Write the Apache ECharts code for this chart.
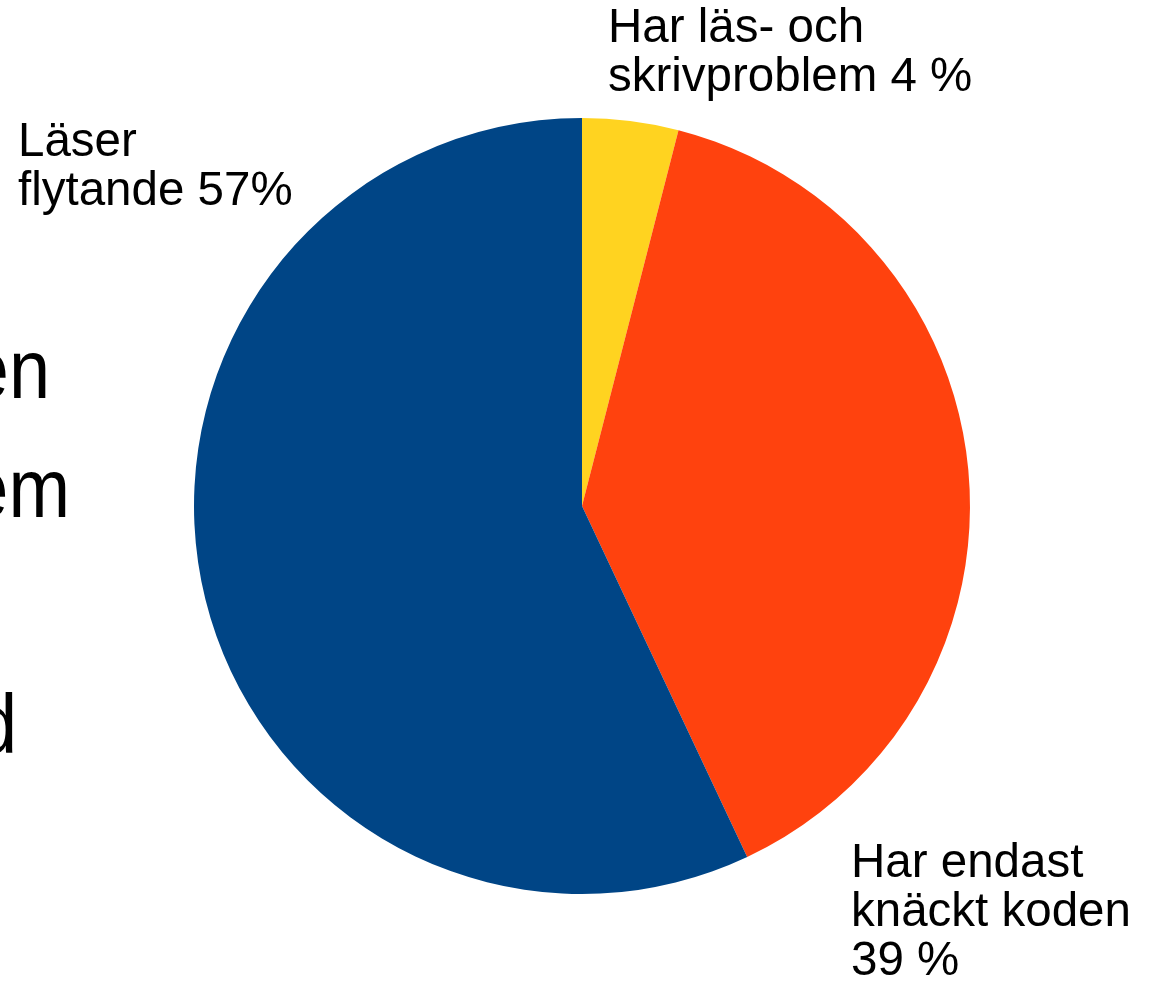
<!DOCTYPE html>
<html>
<head>
<meta charset="utf-8">
<script src="https://cdn.jsdelivr.net/npm/echarts@6/dist/echarts.min.js"></script>
<style>
  html, body { margin: 0; padding: 0; background: #fff; }
  #main { width: 1154px; height: 987px; }
</style>
</head>
<body>
<div id="main"></div>
<script>
// slices clockwise from 12 o'clock
const categories = ['Har läs- och skrivproblem', 'Har endast knäckt koden', 'Läser flytande'];
const values = [4, 39, 57];
const labelTexts = ['Har läs- och\nskrivproblem 4 %', 'Har endast\nknäckt koden\n39 %', 'Läser\nflytande 57%'];
const colors = ['#ffd320', '#ff420e', '#004586'];
// fragments of slide text cut off at the left edge
const sideWords = ['en', 'em', 'd'];

// label anchor (top-left) per slice
const labelPos = [[608, 4], [851, 839], [18, 118]];
// right edge / top of the cut-off words
const sideRight = [50, 70, 17];
const sideTop = [333, 452, 688];

let chart = echarts.init(document.getElementById('main'));
chart.setOption({
  backgroundColor: '#ffffff',
  animation: false,
  graphic: sideWords.map(function (w, i) {
    return {
      type: 'text',
      x: sideRight[i],
      y: sideTop[i],
      scaleX: 0.88,
      style: {
        text: w,
        font: '84px "Liberation Sans", Arial, sans-serif',
        fill: '#000',
        align: 'right',
        verticalAlign: 'top'
      }
    };
  }),
  series: [{
    type: 'pie',
    center: [582, 506],
    radius: [0, 388],
    startAngle: 90,
    clockwise: true,
    data: categories.map(function (c, i) {
      return { name: c, value: values[i], itemStyle: { color: colors[i] } };
    }),
    label: {
      show: true,
      position: 'outside',
      overflow: 'none',
      formatter: function (p) { return labelTexts[p.dataIndex]; },
      fontFamily: '"Liberation Sans", Arial, sans-serif',
      fontSize: 47.5,
      lineHeight: 49,
      color: '#000',
      align: 'left'
    },
    labelLine: { show: false },
    labelLayout: function (params) {
      let p = labelPos[params.dataIndex];
      return { x: p[0], y: p[1], align: 'left', verticalAlign: 'top', hideOverlap: false };
    },
    emphasis: { disabled: true }
  }]
});
</script>
</body>
</html>
